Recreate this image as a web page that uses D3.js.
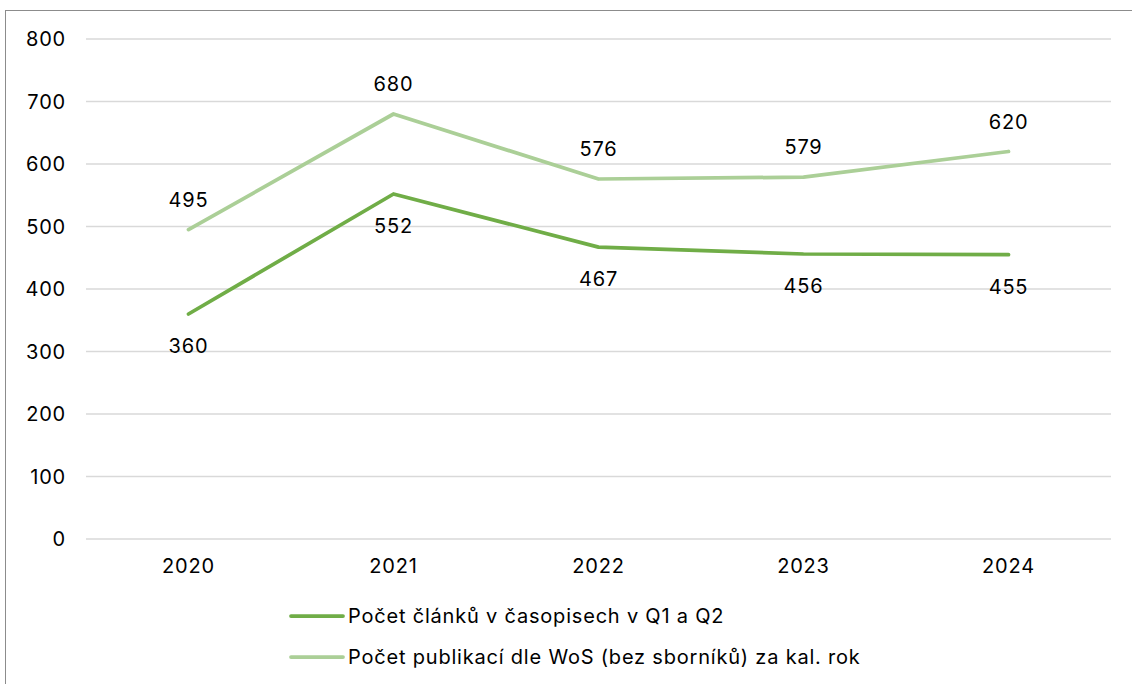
<!DOCTYPE html>
<html><head><meta charset="utf-8">
<script src="https://cdn.jsdelivr.net/npm/d3@7"></script>
<style>body{margin:0;background:#fff;}svg{display:block;font-family:Inter,"Open Sans",sans-serif;}</style>
</head><body>
<svg id="c" width="1132" height="684"></svg>
<script>
const years = ["2020","2021","2022","2023","2024"];
const clanky = [360, 552, 467, 456, 455];
const publikace = [495, 680, 576, 579, 620];
const yTicks = [0,100,200,300,400,500,600,700,800];
const seriesNames = ["Počet článků v časopisech v Q1 a Q2","Počet publikací dle WoS (bez sborníků) za kal. rok"];
const colors = ["#70ad47","#abcf97"];

const svg = d3.select("#c");
const FS = 20, LS = 0.8;
svg.append("rect").attr("x",5.5).attr("y",10.5).attr("width",1140).attr("height",700)
  .attr("fill","none").attr("stroke","#8c8c8c").attr("stroke-width",1);

const x = d3.scaleBand().domain(years).range([86,1111]);
const y = d3.scaleLinear().domain([0,800]).range([539,39]);

svg.append("g").selectAll("line").data(yTicks).join("line")
  .attr("x1",86).attr("x2",1111).attr("y1",d=>y(d)).attr("y2",d=>y(d))
  .attr("stroke","#d9d9d9").attr("stroke-width",1.5);

svg.append("g").selectAll("text").data(yTicks).join("text")
  .attr("x",66).attr("y",d=>y(d)).attr("dy","0.35em").attr("text-anchor","end")
  .attr("font-size",FS).attr("letter-spacing",LS).attr("fill","#000").text(d=>d);

svg.append("g").selectAll("text").data(years).join("text")
  .attr("x",d=>x(d)+x.bandwidth()/2).attr("y",566).attr("dy","0.35em").attr("text-anchor","middle")
  .attr("font-size",FS).attr("letter-spacing",LS).attr("fill","#000").text(d=>d);

const line = d3.line().x((d,i)=>x(years[i])+x.bandwidth()/2).y(d=>y(d));
[publikace, clanky].forEach((s,k)=>{
  const ci = k===0?1:0;
  svg.append("path").datum(s).attr("d",line).attr("fill","none")
    .attr("stroke",colors[ci]).attr("stroke-width",3.75).attr("stroke-linejoin","round").attr("stroke-linecap","round");
});

svg.append("g").selectAll("text").data(publikace).join("text")
  .attr("x",(d,i)=>x(years[i])+x.bandwidth()/2).attr("y",d=>y(d)-30).attr("dy","0.35em")
  .attr("text-anchor","middle").attr("font-size",FS).attr("letter-spacing",LS).attr("fill","#000").text(d=>d);
svg.append("g").selectAll("text").data(clanky).join("text")
  .attr("x",(d,i)=>x(years[i])+x.bandwidth()/2).attr("y",d=>y(d)+32).attr("dy","0.35em")
  .attr("text-anchor","middle").attr("font-size",FS).attr("letter-spacing",LS).attr("fill","#000").text(d=>d);

const lg = svg.append("g");
seriesNames.forEach((n,i)=>{
  const yy = 616 + i*41;
  lg.append("line").attr("x1",291).attr("x2",343).attr("y1",yy).attr("y2",yy)
    .attr("stroke",colors[i]).attr("stroke-width",3.75).attr("stroke-linecap","round");
  lg.append("text").attr("x",348).attr("y",yy).attr("dy","0.35em").attr("font-size",FS).attr("letter-spacing",LS).attr("fill","#000").text(n);
});
</script>
</body></html>
